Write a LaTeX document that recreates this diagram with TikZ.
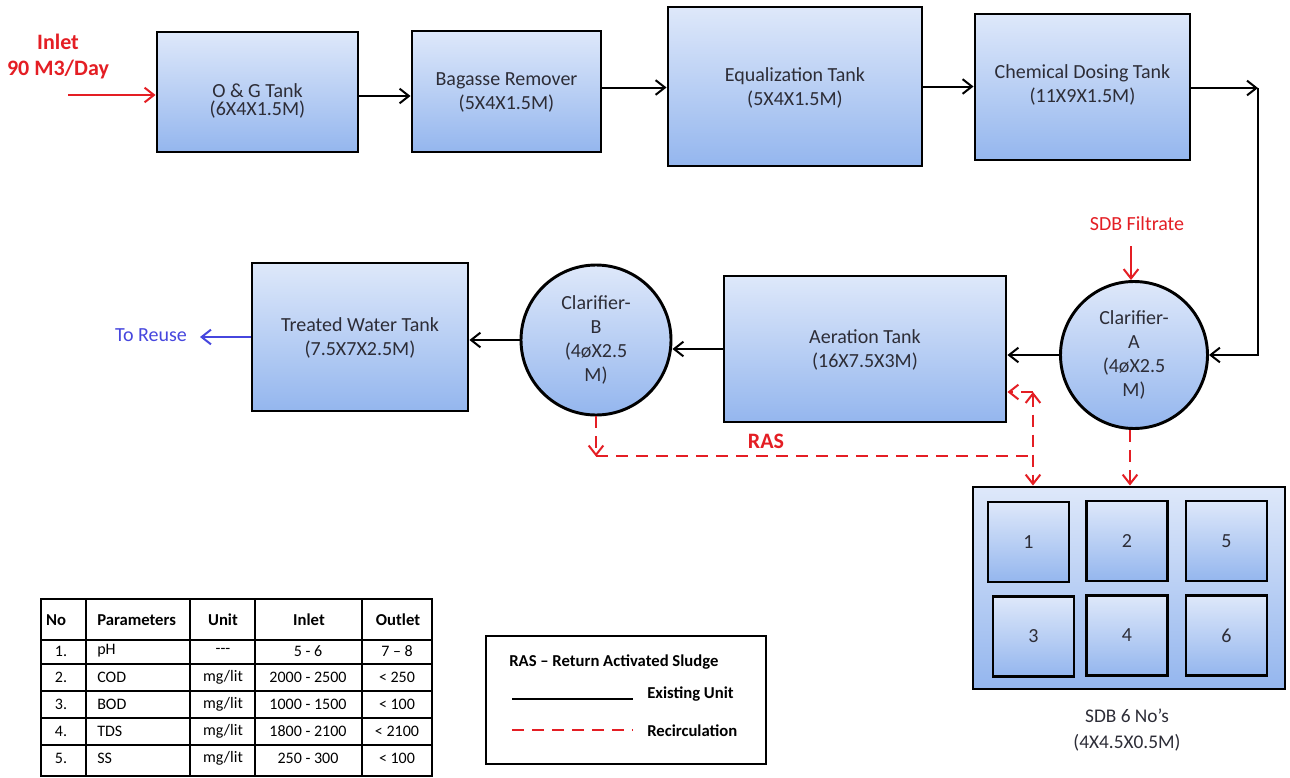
\documentclass[tikz,border=0pt]{standalone}
\usepackage{fontspec}
\setmainfont{Carlito}
\usetikzlibrary{arrows.meta}

\definecolor{tankTop}{RGB}{222,232,250}
\definecolor{tankBot}{RGB}{148,182,238}
\definecolor{flowRed}{RGB}{228,30,36}
\definecolor{reuseBlue}{RGB}{70,70,222}
\definecolor{inkGray}{RGB}{45,45,55}

\newcommand\mgl{mg/lit}
\newcommand\nounit{-{}-{}-}

\begin{document}
\begin{tikzpicture}[x=0.75pt,y=-0.75pt,
  >={Straight Barb[length=7pt,width=11pt]},
  tank/.style 2 args={draw=black, line width=2.2pt, top color=tankTop, bottom color=tankBot,
    minimum width=#1*0.75pt, minimum height=#2*0.75pt, inner sep=0pt},
  vessel/.style={circle, draw=black, line width=2.2pt, top color=tankTop, bottom color=tankBot,
    minimum size=#1*0.75pt, inner sep=0pt, font=\fontsize{15}{18}\selectfont, text=inkGray, align=center},
  cell/.style={tank={81}{80}, font=\fontsize{15}{18}\selectfont, text=inkGray},
  lbl/.style={font=\fontsize{15}{18}\selectfont, text=inkGray, align=center, inner sep=0pt},
  flow/.style={draw=black, line width=1.5pt, ->},
  plain/.style={draw=black, line width=1.5pt},
  recirc/.style={draw=flowRed, line width=1.5pt, dash pattern=on 9pt off 6pt},
  grid/.style={draw=black, line width=1.1pt},
  th/.style={font=\bfseries\fontsize{12.5}{15}\selectfont, inner sep=0pt},
  td/.style={font=\fontsize{12}{15}\selectfont, inner sep=0pt},
  leg/.style={font=\bfseries\fontsize{12.5}{15}\selectfont, inner sep=0pt, anchor=west}
]
\useasboundingbox (0,0) rectangle (1290,778);
\fill[white] (0,0) rectangle (1290,778);

% ---------- process units ----------
\node[tank={201}{120}] (og) at (257.5,92) {};
\node[lbl, font=\fontsize{15}{13.5}\selectfont] (ogL) at (257.5,101) {O \& G Tank\\(6X4X1.5M)};
\node[tank={189}{121}] (bag) at (506.5,91.5) {};
\node[lbl] (bagL) at (506.5,92.5) {Bagasse Remover\\(5X4X1.5M)};
\node[tank={254}{159}] (eq) at (795,86.5) {};
\node[lbl] (eqL) at (795,87.5) {Equalization Tank\\(5X4X1.5M)};
\node[tank={215}{146}] (chem) at (1082.5,87) {};
\node[lbl] (chemL) at (1082.5,84.5) {Chemical Dosing Tank\\(11X9X1.5M)};
\node[tank={282}{146}] (aer) at (865,349) {};
\node[lbl] (aerL) at (865,350) {Aeration Tank\\(16X7.5X3M)};
\node[tank={216}{148}] (twt) at (360,337) {};
\node[lbl] (twtL) at (360,338) {Treated Water Tank\\(7.5X7X2.5M)};
\node[vessel=147] (clA) at (1134,355) {Clarifier-\\A\\(4øX2.5\\M)};
\node[vessel=150] (clB) at (596,340) {Clarifier-\\B\\(4øX2.5\\M)};

% sludge drying beds
\node[tank={312}{202}] (sdb) at (1129,588) {};
\node[cell] (c1) at (1028.5,542) {1};
\node[cell] (c2) at (1127,541) {2};
\node[cell] (c5) at (1226.5,541) {5};
\node[cell] (c3) at (1033.5,636.5) {3};
\node[cell] (c4) at (1127,635.5) {4};
\node[cell] (c6) at (1226.5,635.5) {6};
\node[lbl, font=\fontsize{14.5}{19.5}\selectfont] (sdbL) at (1127,730) {SDB 6 No’s\\(4X4.5X0.5M)};

% ---------- main flow ----------
\node[font=\bfseries\fontsize{16.5}{19.5}\selectfont, text=flowRed, align=center, inner sep=0pt] (inlet) at (58,57) {Inlet\\90 M3/Day};
\coordinate (inStart) at (68,95);
\draw[flow, draw=flowRed] (inStart) -- (inStart -| og.west);
\draw[flow] ([yshift=-3pt]og.east) -- ([yshift=-3pt]og.east -| bag.west);
\draw[flow] ([yshift=3pt]bag.east) -- ([yshift=3pt]bag.east -| eq.west);
\draw[flow] (eq.east) -- (eq.east -| chem.west);
\coordinate (turn) at (1258,88);
\draw[flow] (chem.east |- turn) -- (turn);
\draw[flow] (turn) |- (clA.east);

\node[lbl, text=flowRed] (filt) at (1137,224) {SDB Filtrate};
\coordinate (filtIn) at (1131,246);
\draw[flow, draw=flowRed] (filtIn) -- (filtIn |- clA.north);

\draw[flow] (clA.west) -- (clA.west -| aer.east);
\draw[flow] (aer.west) -- (aer.west -| clB.east);
\draw[flow] (clB.west) -- (clB.west -| twt.east);
\coordinate (reuseTip) at (200,337);
\draw[flow, draw=reuseBlue] (twt.west) -- (reuseTip);
\node[lbl, text=reuseBlue] (reuse) at (151,335) {To Reuse};

% ---------- recirculation ----------
\draw[recirc, ->] (clB.south) -- ++(0,40) coordinate (rasDrop);
\coordinate (rasJoin) at (1029,456);
\draw[recirc] (rasDrop) -- (rasDrop -| rasJoin);
\node[font=\bfseries\fontsize{16.5}{19}\selectfont, text=flowRed, inner sep=0pt] (ras) at (766,441) {RAS};
\coordinate (rasTop) at (1033,392);
\draw[recirc, <->] (rasTop) -- (rasTop |- sdb.north);
\draw[recirc, ->] (rasTop) -- (rasTop -| aer.east);
\draw[recirc, ->] ([xshift=-3pt]clA.south) -- ([xshift=-3pt]clA.south |- sdb.north);

% ---------- parameter table ----------
\draw[grid] (41,599) rectangle (432,776);
\foreach \x in {86,190,255,362} \draw[grid] (\x,599) -- (\x,776);
\foreach \y in {640,664,691,718,745} \draw[grid] (41,\y) -- (432,\y);
\node[th] (hNo) at (56,620) {No};
\node[th, anchor=west] (hPar) at (97,620) {Parameters};
\node[th] (hUnit) at (223,620) {Unit};
\node[th] (hIn) at (309,620) {Inlet};
\node[th] (hOut) at (398,620) {Outlet};
\foreach \yy/\n/\p/\u/\i/\o [count=\r] in
  {651/1./pH/\nounit/5 - 6/7 – 8,
   677/2./COD/\mgl/2000 - 2500/< 250,
   704/3./BOD/\mgl/1000 - 1500/< 100,
   731/4./TDS/\mgl/1800 - 2100/< 2100,
   758/5./SS/\mgl/250 - 300/< 100}{
  \node[td] (rn\r) at (61,\yy) {\n};
  \node[td, anchor=west] (rp\r) at (97,\yy) {\p};
  \node[td] (ru\r) at (223,\yy) {\u};
  \node[td] (ri\r) at (308,\yy) {\i};
  \node[td] (ro\r) at (397,\yy) {\o};
}

% ---------- legend ----------
\node[draw=black, line width=1.1pt, minimum width=280*0.75pt, minimum height=128*0.75pt, inner sep=0pt] (legend) at (626,700) {};
\node[leg] (legRas) at (509,662) {RAS – Return Activated Sludge};
\coordinate (legA) at (512,699);
\coordinate (legB) at (633,699);
\draw[plain] (legA) -- (legB);
\node[leg] (legExist) at (647,694) {Existing Unit};
\coordinate (legC) at (512,730);
\coordinate (legD) at (633,730);
\draw[recirc] (legC) -- (legD);
\node[leg] (legRec) at (647,731) {Recirculation};
\end{tikzpicture}
\end{document}
